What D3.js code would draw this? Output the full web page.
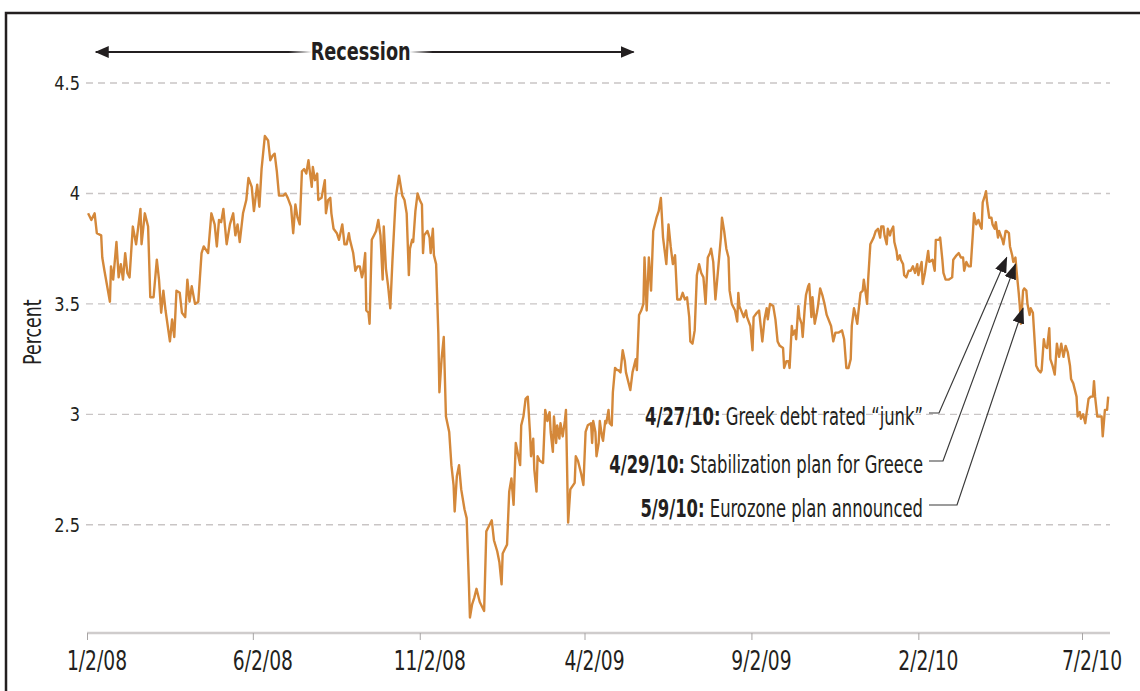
<!DOCTYPE html>
<html>
<head>
<meta charset="utf-8">
<script src="https://cdn.jsdelivr.net/npm/d3@7"></script>
<style>
    body { margin: 0; background: #fff; }
    svg { display: block; }
    text { font-family: "Liberation Sans Narrow", "DejaVu Sans Condensed", "Roboto", sans-serif; fill: #231f20; }
</style>
</head>
<body>
<div class="container"></div>
<script>
// 10-year yield (month-day per year, percent)
const days2008 = ['01-03','01-06','01-09','01-11','01-15','01-16','01-18','01-23','01-24','01-26','01-29','01-31',
    '02-02','02-04','02-06','02-08','02-10','02-13','02-16','02-20','02-21','02-24','02-27','02-29',
    '03-03','03-06','03-08','03-10','03-12','03-14','03-18','03-20','03-22','03-24','03-27','03-29',
    '04-01','04-03','04-05','04-07','04-10','04-13','04-16','04-18','04-22','04-25','04-28','04-30',
    '05-02','05-04','05-06','05-09','05-12','05-15','05-17','05-19','05-21','05-24','05-27','05-29',
    '06-01','06-03','06-06','06-08','06-10','06-13','06-16','06-18','06-20','06-22','06-24','06-26','06-30',
    '07-02','07-04','07-07','07-09','07-11','07-13','07-15','07-17','07-19','07-21','07-23','07-26','07-27','07-29','07-31',
    '08-01','08-04','08-07','08-08','08-10','08-12','08-13','08-15','08-18','08-20','08-23','08-25','08-27','08-29','08-30',
    '09-02','09-04','09-06','09-08','09-10','09-11','09-13','09-14','09-16','09-17','09-19','09-21','09-23','09-25','09-27','09-29','09-30',
    '10-02','10-04','10-06','10-08','10-10','10-11','10-14','10-17','10-19','10-21','10-23','10-24','10-26','10-27','10-29','10-31',
    '11-02','11-04','11-05','11-06','11-09','11-11','11-12','11-14','11-15','11-17','11-19','11-20','11-22','11-24','11-26','11-29',
    '12-01','12-03','12-04','12-06','12-08','12-10','12-13','12-15','12-17','12-18','12-20','12-22','12-24','12-27','12-31'];
const yields2008 = [3.91,3.88,3.91,3.82,3.81,3.71,3.65,3.51,3.67,3.61,3.78,3.62,
    3.68,3.61,3.73,3.64,3.62,3.85,3.77,3.93,3.77,3.91,3.85,3.53,
    3.53,3.70,3.61,3.46,3.56,3.47,3.33,3.43,3.35,3.56,3.55,3.46,
    3.44,3.61,3.51,3.58,3.50,3.51,3.73,3.76,3.73,3.91,3.86,3.76,
    3.88,3.87,3.93,3.77,3.86,3.91,3.81,3.86,3.78,3.91,3.97,4.07,
    4.03,3.92,4.04,3.94,4.11,4.26,4.24,4.15,4.17,4.18,4.10,3.99,3.99,
    4.00,3.98,3.94,3.82,3.95,3.89,3.86,4.10,4.11,4.09,4.15,4.03,4.12,4.06,4.09,
    3.97,3.98,4.06,3.91,3.97,3.98,3.91,3.84,3.82,3.79,3.86,3.77,3.77,3.82,3.79,
    3.73,3.65,3.67,3.67,3.62,3.64,3.73,3.47,3.46,3.41,3.79,3.81,3.83,3.88,3.81,3.61,3.85,
    3.66,3.58,3.48,3.70,3.89,3.98,4.08,3.99,3.97,3.91,3.63,3.75,3.79,3.78,3.92,4.00,
    3.97,3.95,3.73,3.81,3.83,3.80,3.73,3.84,3.72,3.68,3.37,3.10,3.25,3.35,2.99,2.92,
    2.77,2.68,2.56,2.72,2.77,2.66,2.57,2.53,2.24,2.08,2.14,2.17,2.21,2.15,2.11];

const days2009 = ['01-02','01-04','01-07','01-09','01-12','01-14','01-16','01-17','01-19','01-21','01-23','01-25','01-27','01-29','01-31',
    '02-02','02-03','02-05','02-07','02-09','02-11','02-12','02-14','02-15','02-17','02-18','02-20','02-23','02-25','02-27',
    '03-01','03-02','03-04','03-05','03-07','03-08','03-10','03-11','03-13','03-15','03-16','03-18','03-20','03-24','03-25','03-27','03-30',
    '04-01','04-03','04-05','04-08','04-09','04-10','04-12','04-13','04-15','04-16','04-18','04-19','04-21','04-22','04-24','04-25','04-27','04-28','04-30',
    '05-02','05-03','05-05','05-07','05-09','05-10','05-14','05-16','05-19','05-20','05-22','05-24','05-26','05-27','05-29','05-31',
    '06-02','06-04','06-07','06-09','06-11','06-13','06-16','06-18','06-20','06-22','06-24','06-26','06-29',
    '07-01','07-03','07-05','07-07','07-08','07-10','07-12','07-14','07-16','07-18','07-20','07-22','07-24','07-26','07-27','07-29','07-31',
    '08-02','08-05','08-06','08-08','08-10','08-12','08-13','08-15','08-18','08-20','08-21','08-22','08-26','08-28','08-29',
    '09-01','09-03','09-04','09-07','09-09','09-12','09-14','09-16','09-17','09-19','09-22','09-24','09-26','09-28',
    '10-01','10-02','10-04','10-06','10-07','10-09','10-10','10-12','10-13','10-15','10-16','10-18','10-19','10-21','10-22','10-24','10-25','10-27','10-28','10-30',
    '11-01','11-02','11-04','11-06','11-08','11-10','11-14','11-16','11-18','11-21','11-24','11-26','11-28','11-30',
    '12-02','12-03','12-05','12-06','12-08','12-09','12-11','12-13','12-14','12-16','12-17','12-18','12-20','12-23','12-25','12-27','12-29','12-30'];
const yields2009 = [2.47,2.49,2.52,2.43,2.38,2.33,2.23,2.37,2.39,2.41,2.65,2.71,2.59,2.87,2.82,
    2.77,2.95,2.99,3.07,3.08,2.92,2.81,2.89,2.75,2.65,2.81,2.79,2.78,3.02,2.97,
    3.01,2.92,2.83,2.99,2.87,2.95,2.89,2.96,2.90,2.97,3.02,2.51,2.66,2.69,2.81,2.79,2.73,
    2.68,2.92,2.95,2.96,2.87,2.97,2.92,2.81,2.87,2.97,2.90,2.88,2.97,2.96,3.02,2.96,2.95,3.10,3.21,
    3.20,3.20,3.19,3.29,3.24,3.19,3.11,3.19,3.25,3.20,3.45,3.47,3.50,3.71,3.47,3.71,
    3.56,3.83,3.89,3.92,3.98,3.80,3.68,3.86,3.76,3.68,3.72,3.52,3.52,
    3.55,3.52,3.53,3.44,3.33,3.32,3.38,3.63,3.68,3.64,3.62,3.50,3.71,3.73,3.75,3.69,3.52,
    3.63,3.80,3.89,3.83,3.75,3.71,3.56,3.50,3.47,3.42,3.55,3.49,3.44,3.47,3.44,
    3.40,3.29,3.44,3.46,3.47,3.33,3.43,3.48,3.43,3.50,3.49,3.43,3.33,3.31,
    3.30,3.21,3.24,3.24,3.21,3.40,3.36,3.38,3.34,3.49,3.44,3.41,3.35,3.49,3.54,3.58,3.59,3.44,3.53,3.41,
    3.46,3.49,3.57,3.54,3.50,3.45,3.40,3.33,3.37,3.37,3.38,3.34,3.21,3.21,
    3.25,3.40,3.48,3.46,3.41,3.46,3.55,3.56,3.61,3.54,3.50,3.61,3.77,3.80,3.83,3.84,3.80,3.85];

const days2010 = ['01-01','01-02','01-04','01-05','01-07','01-08','01-10','01-11','01-13','01-14','01-16','01-17','01-19','01-20','01-22','01-24','01-26','01-28','01-30',
    '02-01','02-02','02-05','02-06','02-08','02-11','02-12','02-15','02-17','02-18','02-21','02-22','02-24','02-25','02-27',
    '03-02','03-05','03-06','03-09','03-11','03-13','03-15','03-16','03-18','03-20','03-22','03-24','03-25','03-27','03-29','03-31',
    '04-01','04-02','04-04','04-05','04-06','04-08','04-10','04-11','04-13','04-14','04-16','04-17','04-20','04-21','04-23','04-24','04-26','04-27','04-29','04-30',
    '05-02','05-03','05-05','05-06','05-07','05-09','05-10','05-12','05-13','05-15','05-16','05-18','05-19','05-21','05-23','05-25','05-26','05-28','05-29','05-31',
    '06-02','06-03','06-05','06-07','06-09','06-11','06-13','06-15','06-17','06-19','06-21','06-22','06-24','06-27','06-28','06-30',
    '07-01','07-03','07-05','07-08','07-10','07-12','07-13','07-14','07-16','07-18','07-20','07-21','07-23','07-25','07-26'];
const yields2010 = [3.85,3.81,3.77,3.84,3.81,3.83,3.85,3.78,3.74,3.70,3.72,3.70,3.68,3.63,3.62,3.65,3.65,3.67,3.64,
    3.68,3.63,3.69,3.59,3.64,3.74,3.69,3.70,3.65,3.79,3.79,3.80,3.70,3.64,3.61,
    3.61,3.62,3.70,3.72,3.73,3.71,3.71,3.65,3.69,3.67,3.67,3.82,3.91,3.86,3.88,3.85,
    3.84,3.96,3.99,4.01,3.96,3.89,3.89,3.86,3.84,3.87,3.80,3.83,3.79,3.77,3.83,3.83,3.82,3.76,3.72,3.69,
    3.71,3.65,3.55,3.49,3.41,3.56,3.57,3.56,3.50,3.45,3.48,3.46,3.38,3.22,3.20,3.19,3.20,3.34,3.31,3.30,
    3.39,3.25,3.22,3.18,3.32,3.26,3.32,3.26,3.31,3.28,3.22,3.16,3.14,3.08,2.99,3.01,
    2.98,3.00,2.96,3.07,3.08,3.08,3.15,3.08,2.99,2.99,2.99,2.90,3.02,3.02,3.08];

const tickDates = ['2008-01-02', '2008-06-02', '2008-11-02', '2009-04-02', '2009-09-02', '2010-02-02', '2010-07-02'];
const tickLabels = ['1/2/08', '6/2/08', '11/2/08', '4/2/09', '9/2/09', '2/2/10', '7/2/10'];
const yTicks = [2.5, 3, 3.5, 4, 4.5];

const recessionSpan = ['2008-01-10', '2009-05-17'];

const noteDates = ['4/27/10:', '4/29/10:', '5/9/10:'];
const noteTexts = [' Greek debt rated \u201cjunk\u201d', ' Stabilization plan for Greece', ' Eurozone plan announced'];
const arrowDates = ['2010-04-24', '2010-05-02', '2010-05-09'];
const arrowValues = [3.71, 3.68, 3.48];

const w = 1140;
const h = 691;
const axisRight = 1110;
const ink = '#231f20';

const parse = d3.timeParse('%Y-%m-%d');
const series = [].concat(
    days2008.map((d, i) => ({ date: parse('2008-' + d), value: yields2008[i] })),
    days2009.map((d, i) => ({ date: parse('2009-' + d), value: yields2009[i] })),
    days2010.map((d, i) => ({ date: parse('2010-' + d), value: yields2010[i] }))
);

const x = d3.scaleTime()
    .domain([parse(tickDates[0]), parse(tickDates[tickDates.length - 1])])
    .range([87, 1082]);
const y = d3.scaleLinear()
    .domain([2.01, 4.5])
    .range([633, 83]);

const svg = d3.select('.container')
    .append('svg')
    .attr('width', w)
    .attr('height', h)
    .attr('viewBox', [0, 0, w, h]);

// condensed look: the installed condensed face is wider than the original, so squeeze it
function squeezedText(parent, tx, ty, sx, rotate) {
    return parent.append('g')
        .attr('transform', `translate(${tx},${ty})${rotate ? ` rotate(${rotate})` : ''} scale(${sx},1)`)
        .append('text');
}

const defs = svg.append('defs');
defs.append('marker')
    .attr('id', 'bigArrow')
    .attr('markerUnits', 'userSpaceOnUse')
    .attr('viewBox', '0 0 14 12')
    .attr('markerWidth', 14)
    .attr('markerHeight', 12)
    .attr('refX', 13)
    .attr('refY', 6)
    .attr('orient', 'auto-start-reverse')
    .append('path')
    .attr('d', 'M0,0L14,6L0,12Z')
    .attr('fill', ink);

defs.append('marker')
    .attr('id', 'noteArrow')
    .attr('markerUnits', 'userSpaceOnUse')
    .attr('viewBox', '0 0 16 12')
    .attr('markerWidth', 16)
    .attr('markerHeight', 12)
    .attr('refX', 15)
    .attr('refY', 6)
    .attr('orient', 'auto')
    .append('path')
    .attr('d', 'M0,0L16,6L0,12Z')
    .attr('fill', ink);

const fade = defs.append('linearGradient').attr('id', 'fade');
[[0, 0], [0.16, 1], [0.84, 1], [1, 0]].forEach(s => {
    fade.append('stop').attr('offset', s[0]).attr('stop-color', '#fff').attr('stop-opacity', s[1]);
});

// frame
svg.append('path')
    .attr('d', `M6,${h}V13H${w}`)
    .attr('fill', 'none')
    .attr('stroke', ink)
    .attr('stroke-width', 2.5);

// grid
svg.append('g')
    .selectAll('line')
    .data(yTicks)
    .join('line')
    .attr('x1', 86)
    .attr('x2', axisRight)
    .attr('y1', d => y(d))
    .attr('y2', d => y(d))
    .attr('stroke', '#c9c5c5')
    .attr('stroke-width', 1.4)
    .attr('stroke-dasharray', '7,5');

yTicks.forEach(v => {
    squeezedText(svg, 80, y(v) + 7, 0.9)
        .attr('text-anchor', 'end')
        .style('font-size', '20px')
        .text(String(v));
});

squeezedText(svg, 41, (y(3) + y(3.5)) / 2 - 27, 0.81, -90)
    .attr('text-anchor', 'middle')
    .style('font-size', '24px')
    .text('Percent');

// x axis
svg.append('line')
    .attr('x1', 87)
    .attr('x2', axisRight)
    .attr('y1', 633)
    .attr('y2', 633)
    .attr('stroke', '#cfcccc')
    .attr('stroke-width', 2.5);

const xAxis = svg.append('g')
    .attr('transform', 'translate(0, 633)')
    .call(d3.axisBottom(x)
        .tickValues(tickDates.map(parse))
        .tickFormat('')
        .tickSize(7));
xAxis.select('.domain').remove();
xAxis.selectAll('.tick line').attr('stroke', '#a8a5a5');

tickDates.forEach((d, i) => {
    squeezedText(svg, x(parse(d)) + 10, 670, 0.8)
        .attr('text-anchor', 'middle')
        .style('font-size', '26px')
        .text(tickLabels[i]);
});

// series
svg.append('path')
    .datum(series)
    .attr('fill', 'none')
    .attr('stroke', '#d4883a')
    .attr('stroke-width', 2.4)
    .attr('stroke-linejoin', 'round')
    .attr('d', d3.line().x(d => x(d.date)).y(d => y(d.value)));

// recession arrow
const rx0 = x(parse(recessionSpan[0]));
const rx1 = x(parse(recessionSpan[1]));
const rMid = (rx0 + rx1) / 2 - 4;
svg.append('line')
    .attr('x1', rx0)
    .attr('x2', rx1)
    .attr('y1', 52)
    .attr('y2', 52)
    .attr('stroke', ink)
    .attr('stroke-width', 2)
    .attr('marker-start', 'url(#bigArrow)')
    .attr('marker-end', 'url(#bigArrow)');
svg.append('rect')
    .attr('x', rMid - 72)
    .attr('y', 44)
    .attr('width', 144)
    .attr('height', 16)
    .attr('fill', 'url(#fade)');
squeezedText(svg, rMid, 60, 0.82)
    .attr('text-anchor', 'middle')
    .style('font-size', '24px')
    .style('font-weight', 'bold')
    .text('Recession');

// annotations
const noteBaselines = [425, 473, 517];
const noteElbows = [939, 943, 957];
noteDates.forEach((label, i) => {
    const t = squeezedText(svg, 923, noteBaselines[i], 0.76)
        .attr('text-anchor', 'end')
        .style('font-size', '24px');
    t.append('tspan').style('font-weight', 'bold').text(label);
    t.append('tspan').text(noteTexts[i]);

    const ly = noteBaselines[i] - 12;
    const tx = x(parse(arrowDates[i]));
    const ty = y(arrowValues[i]);
    svg.append('path')
        .attr('d', `M929,${ly}H${noteElbows[i]}L${tx},${ty}`)
        .attr('fill', 'none')
        .attr('stroke', '#3a3a3a')
        .attr('stroke-width', 1.2)
        .attr('marker-end', 'url(#noteArrow)');
});
</script>
</body>
</html>
